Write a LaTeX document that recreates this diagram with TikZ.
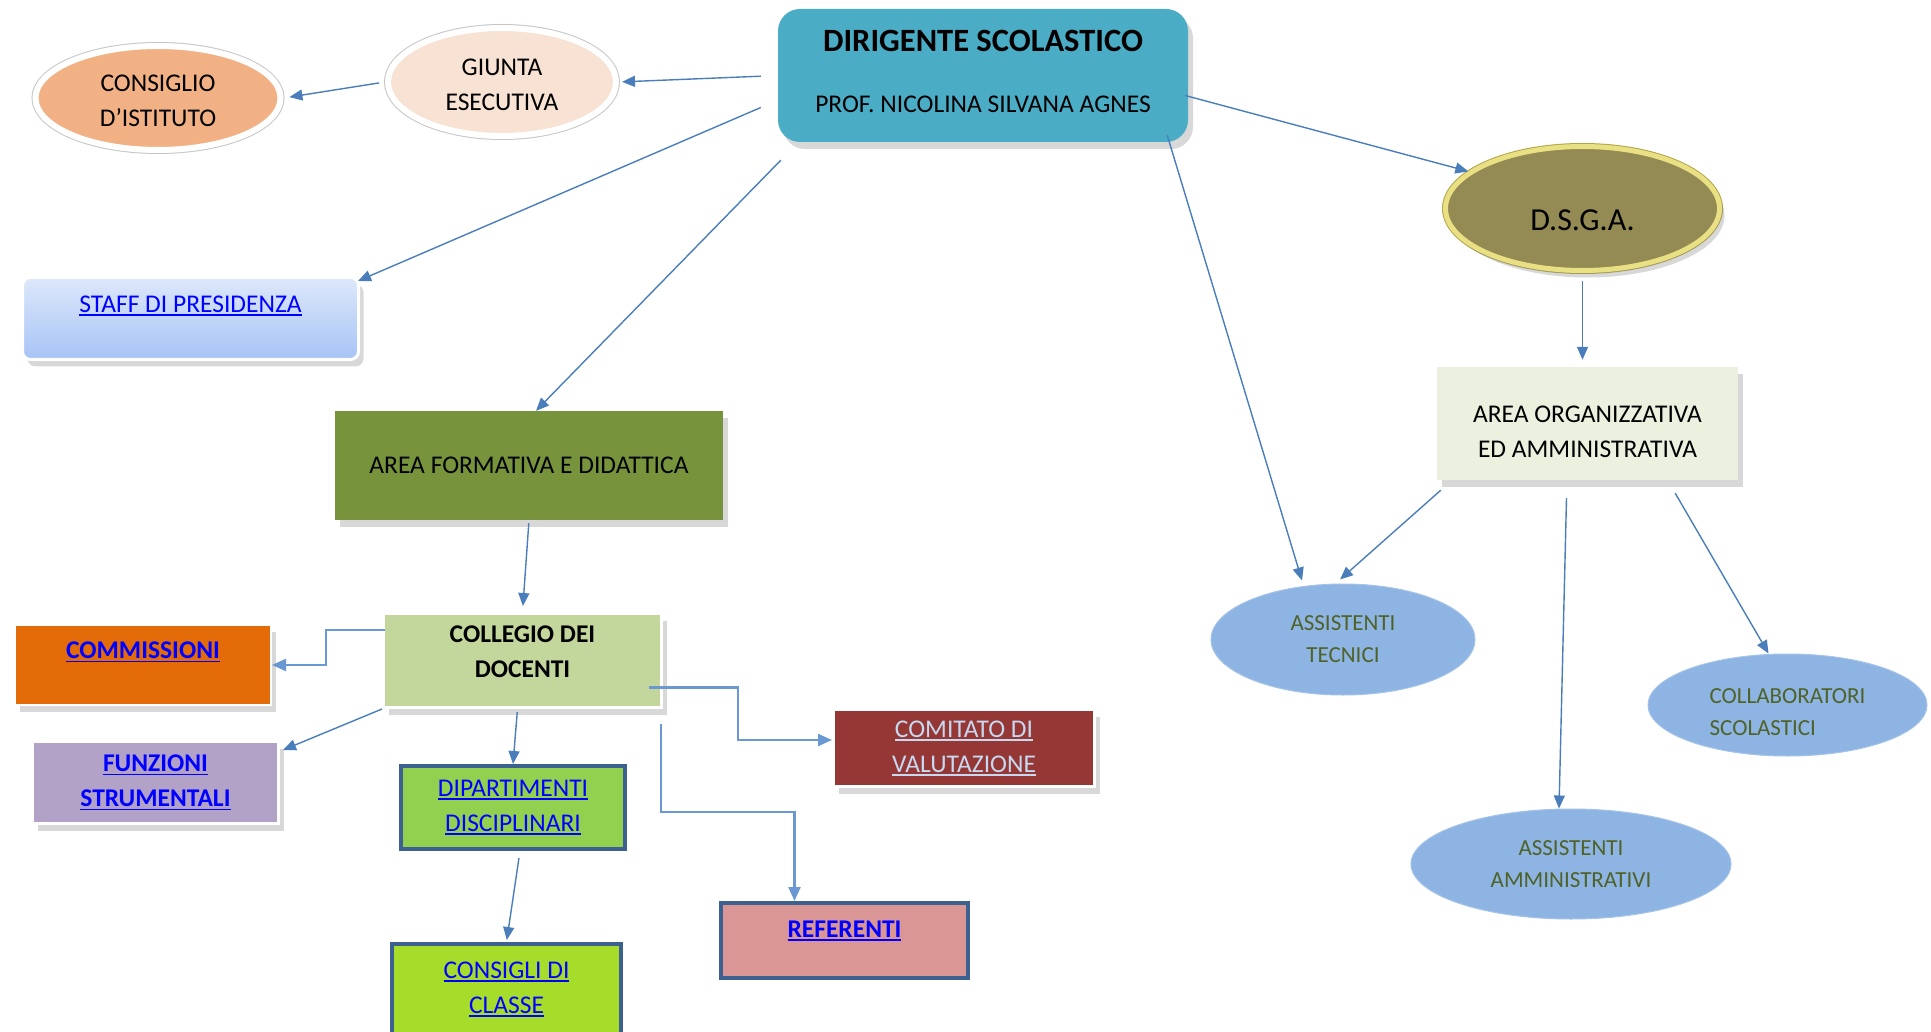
\documentclass[tikz,border=0pt]{standalone}
\usepackage{fontspec}
\setmainfont{Carlito}
\usepackage{xcolor}
\usetikzlibrary{arrows.meta,positioning,shapes.geometric,shadows,calc}

\definecolor{dirblue}{HTML}{4BACC6}
\definecolor{giuntafill}{HTML}{F8E2D3}
\definecolor{consigliofill}{HTML}{F2B184}
\definecolor{stafftop}{HTML}{DDE8FB}
\definecolor{staffbottom}{HTML}{A7C3F6}
\definecolor{formfill}{HTML}{77933C}
\definecolor{collegiofill}{HTML}{C3D69B}
\definecolor{commfill}{HTML}{E36C09}
\definecolor{funzfill}{HTML}{B3A2C7}
\definecolor{dipfill}{HTML}{92D050}
\definecolor{classfill}{HTML}{A6DD2B}
\definecolor{reffill}{HTML}{D99694}
\definecolor{comfill}{HTML}{953735}
\definecolor{comtext}{HTML}{C6D9F1}
\definecolor{dsgafill}{HTML}{948A54}
\definecolor{dsgaedge}{HTML}{E9DF83}
\definecolor{dsgaouter}{HTML}{B3A64A}
\definecolor{orgfill}{HTML}{EBF1DE}
\definecolor{ovalfill}{HTML}{8DB4E2}
\definecolor{ovaltext}{HTML}{4F6228}
\definecolor{navyedge}{HTML}{3C6090}
\definecolor{linkblue}{HTML}{0000FF}
\definecolor{arrowblue}{HTML}{4A7EBB}
\definecolor{elbowblue}{HTML}{6A98D2}

\newcommand{\lnk}[1]{\setbox0\hbox{#1}\rlap{\rule[-3.5pt]{\wd0}{1.5pt}}\box0}

\tikzset{
  arr/.style={draw=arrowblue, line width=1.4pt, -{Triangle[length=13pt,width=11pt]}},
  elbow/.style={draw=elbowblue, line width=2.2pt, -{Triangle[length=14pt,width=12pt]}},
  orgbox/.style={rectangle, align=center, inner sep=0pt},
  orgoval/.style={ellipse, align=center, inner sep=0pt},
  softshadow/.style={drop shadow={shadow xshift=5pt, shadow yshift=-7pt, opacity=.3}},
  whiteedge/.style={preaction={draw=gray!45, line width=8pt}, draw=white, line width=6pt},
  navybox/.style={orgbox, draw=navyedge, line width=4pt},
}

\begin{document}
\begin{tikzpicture}[x=1pt, y=-1pt, font=\fontsize{25.5}{35}\selectfont]
  \fill[white] (0,0) rectangle (1931,1032);
  \useasboundingbox (0,0) rectangle (1931,1032);

  \node[orgbox, rounded corners=22pt, fill=dirblue, minimum width=410pt, minimum height=133pt, softshadow]
    (dirigente) at (983,75.5)
    {{\fontsize{32.5}{36}\selectfont\bfseries DIRIGENTE SCOLASTICO}\\[26pt]PROF. NICOLINA SILVANA AGNES\\[-27pt]\mbox{}};
  \node[orgoval, whiteedge, fill=giuntafill, minimum width=228pt, minimum height=108pt]
    (giunta) at (502,82) {\mbox{}\\[-12pt]GIUNTA\\ESECUTIVA};
  \node[orgoval, whiteedge, fill=consigliofill, minimum width=245pt, minimum height=104pt]
    (consiglio) at (158,98) {\mbox{}\\[-12pt]CONSIGLIO\\D’ISTITUTO};
  \node[orgbox, rounded corners=8pt, top color=stafftop, bottom color=staffbottom,
        draw=white, line width=3pt, minimum width=336pt, minimum height=82pt, softshadow, text=linkblue]
    (staff) at (190.5,318.5) {\lnk{STAFF DI PRESIDENZA}\\[-6pt]\mbox{}};

  \node[orgbox, fill=formfill, minimum width=388pt, minimum height=109pt, softshadow]
    (formativa) at (529,465.5) {AREA FORMATIVA E DIDATTICA};
  \node[orgbox, fill=collegiofill, draw=white, line width=3pt, minimum width=278pt, minimum height=94pt, softshadow]
    (collegio) at (522.5,660.5) {\bfseries COLLEGIO DEI\\\bfseries DOCENTI\\[-18pt]\mbox{}};
  \node[orgbox, fill=commfill, draw=white, line width=2pt, minimum width=256pt, minimum height=80pt, softshadow, text=linkblue]
    (commissioni) at (143,665) {\bfseries\lnk{COMMISSIONI}\\[-6pt]\mbox{}};
  \node[orgbox, fill=funzfill, draw=white, line width=3pt, minimum width=246pt, minimum height=82pt, softshadow, text=linkblue]
    (funzioni) at (155.5,782.5) {\bfseries\lnk{FUNZIONI}\\\bfseries\lnk{STRUMENTALI}};
  \node[navybox, fill=dipfill, minimum width=224pt, minimum height=83pt, text=linkblue]
    (dipartimenti) at (513,807.5) {\lnk{DIPARTIMENTI}\\\lnk{DISCIPLINARI}};
  \node[navybox, fill=classfill, minimum width=229pt, minimum height=90pt, text=linkblue]
    (consigli) at (506.5,989) {\lnk{CONSIGLI DI}\\\lnk{CLASSE}};
  \node[navybox, fill=reffill, minimum width=247pt, minimum height=75pt, text=linkblue]
    (referenti) at (844.5,940.5) {\bfseries\lnk{REFERENTI}\\[-12pt]\mbox{}};
  \node[orgbox, fill=comfill, draw=white, line width=3pt, minimum width=261pt, minimum height=77pt, softshadow, text=comtext]
    (comitato) at (964,748) {\lnk{COMITATO DI}\\\lnk{VALUTAZIONE}};

  \node[orgoval, fill=dsgafill, preaction={draw=dsgaouter, line width=7pt}, draw=dsgaedge, line width=5pt,
        minimum width=274pt, minimum height=124pt, softshadow, font=\fontsize{32}{36}\selectfont]
    (dsga) at (1582.5,208.5) {\mbox{}\\[8.6pt]D.S.G.A.};
  \node[orgbox, fill=orgfill, minimum width=301pt, minimum height=113pt, softshadow]
    (areaorg) at (1587.5,423.5) {\mbox{}\\[-1pt]AREA ORGANIZZATIVA\\ED AMMINISTRATIVA};
  \node[orgoval, fill=ovalfill, draw=ovalfill!80!white, line width=1pt, minimum width=264pt, minimum height=111pt,
        text=ovaltext, font=\fontsize{23}{32}\selectfont]
    (tecnici) at (1343,639.5) {ASSISTENTI\\TECNICI};
  \node[orgoval, fill=ovalfill, draw=ovalfill!80!white, line width=1pt, minimum width=279pt, minimum height=102pt,
        text=ovaltext, font=\fontsize{23}{32}\selectfont, align=left]
    (collab) at (1787.5,705) {\mbox{}\\[-3pt]COLLABORATORI\\SCOLASTICI};
  \node[orgoval, fill=ovalfill, draw=ovalfill!80!white, line width=1pt, minimum width=320pt, minimum height=110pt,
        text=ovaltext, font=\fontsize{23}{32}\selectfont]
    (ammin) at (1571,864) {ASSISTENTI\\AMMINISTRATIVI};

  % dirigente
  \draw[arr, shorten <=17pt, shorten >=3pt] (dirigente.west) -- (giunta.east);
  \draw[arr, shorten <=6pt, shorten >=6pt] (giunta.west) -- (consiglio.east);
  \draw[arr] ($(dirigente.west)+(-17,32)$) -- ($(staff.north east)+(-2,5)$);
  \draw[arr] ($(dirigente.south west)+(3,18)$) -- ([xshift=7pt]formativa.north);
  \draw[arr] ($(dirigente.east)+(-3,20)$) -- (dsga.162);
  \draw[arr] ($(dirigente.south east)+(-21,-7)$) -- ($(tecnici.north)+(-41,-3)$);

  % area organizzativa
  \draw[arr, shorten <=8pt, shorten >=7pt] (dsga.south) -- (dsga.south |- areaorg.north);
  \draw[arr] ($(areaorg.south west)+(4,10)$) -- ($(tecnici.north)+(-3,-4)$);
  \draw[arr] ($(areaorg.south)+(-21,18)$) -- ([xshift=-12pt]ammin.north);
  \draw[arr] ($(areaorg.south east)+(-63,13)$) -- ([xshift=-19pt]collab.north);

  % area formativa
  \draw[arr, shorten <=3pt, shorten >=6pt] (formativa.south) -- (collegio.north);
  \draw[elbow] ($(collegio.north west)+(3,18)$) -- ++(-59,0) |- (commissioni.east);
  \draw[arr] (collegio.south west) -- ($(funzioni.north east)+(3,10)$);
  \draw[arr, shorten <=3pt] ([xshift=-5pt]collegio.south) -- (dipartimenti.north);
  \draw[elbow] ($(collegio.east)+(-14,27)$) -- ++(89,0) |- ([yshift=8pt]comitato.west);
  \draw[elbow] ($(collegio.south east)+(-2,15)$) -- ++(0,88) -| ([xshift=-50pt]referenti.north);
  \draw[arr, shorten <=7pt, shorten >=2pt] ([xshift=7pt]dipartimenti.south) -- (consigli.north);
\end{tikzpicture}
\end{document}
